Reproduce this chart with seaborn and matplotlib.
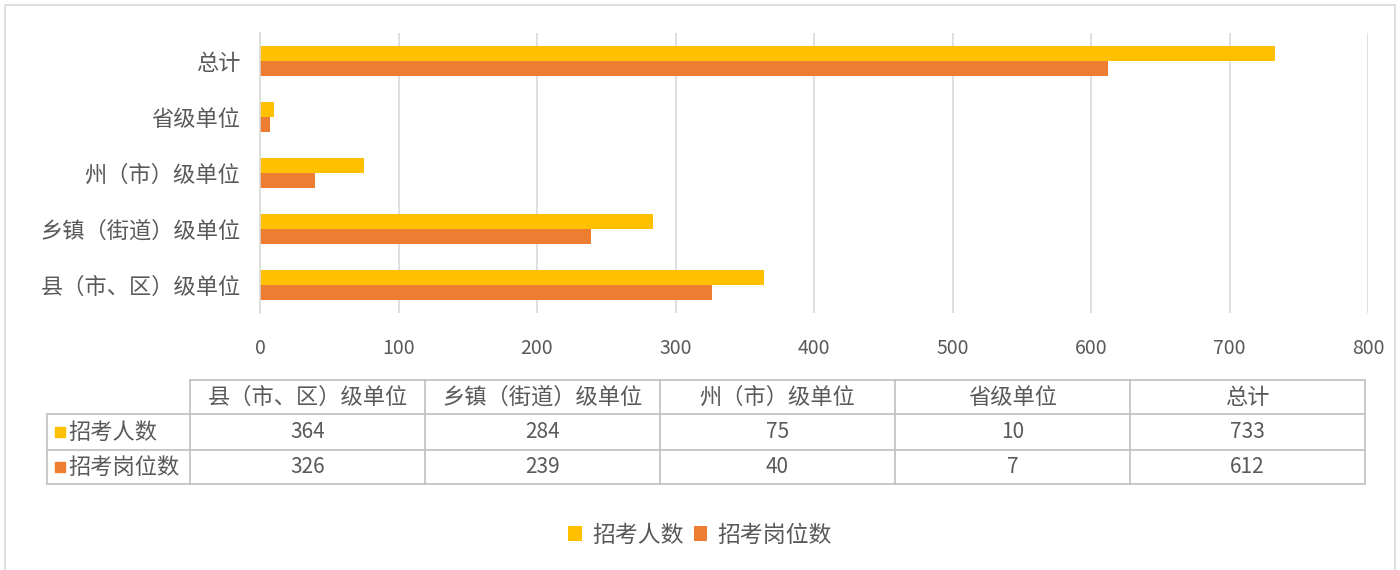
import pandas as pd
import matplotlib.pyplot as plt
import seaborn as sns
from matplotlib.patches import Patch, Rectangle

# --- DATA ---
categories = ["县（市、区）级单位", "乡镇（街道）级单位", "州（市）级单位", "省级单位", "总计"]
series_names = ["招考人数", "招考岗位数"]
applicants = [364, 284, 75, 10, 733]
positions = [326, 239, 40, 7, 612]
x_ticks = [0, 100, 200, 300, 400, 500, 600, 700, 800]

COLORS = {"招考人数": "#FFC000", "招考岗位数": "#ED7D31"}
TEXT = "#595959"
GRID = "#D9D9D9"
TABLE_LINE = "#BFBFBF"

df = pd.DataFrame({
    "category": categories * 2,
    "series": [series_names[0]] * len(categories) + [series_names[1]] * len(categories),
    "value": applicants + positions,
})

sns.set_theme(style="white")
plt.rcParams["font.family"] = ["Noto Sans CJK SC", "DejaVu Sans"]

W, H = 1400, 570
fig = plt.figure(figsize=(14, 5.7), dpi=100)

# overlay axes in pixel coords for border + data table
bg = fig.add_axes([0, 0, 1, 1])
bg.set_xlim(0, W)
bg.set_ylim(H, 0)
bg.axis("off")
bg.add_patch(Rectangle((5, 5), 1390, 580, fill=False, edgecolor=GRID, linewidth=1.2))

# main bar chart
ax = fig.add_axes([260 / W, 1 - 313 / H, (1368 - 260) / W, (313 - 33) / H])
sns.barplot(data=df, y="category", x="value", hue="series", order=categories[::-1],
            hue_order=series_names, palette=COLORS, orient="h", width=0.54,
            saturation=1, linewidth=0, ax=ax, legend=False)
ax.set_xlim(0, 800)
ax.set_xticks(x_ticks)
ax.set_xticklabels([str(t) for t in x_ticks], fontsize=14, color=TEXT)
ax.tick_params(axis="x", length=0, pad=18)
ax.tick_params(axis="y", length=0, pad=14, labelsize=16, labelcolor=TEXT)
ax.grid(axis="x", color=GRID, linewidth=1.2)
ax.set_axisbelow(True)
for s in ["top", "right", "bottom"]:
    ax.spines[s].set_visible(False)
ax.spines["left"].set_color(GRID)
ax.spines["left"].set_linewidth(1.2)
ax.set_xlabel("")
ax.set_ylabel("")

# data table under the chart
col_left, col_w = 190, 235
label_left = 47
rows_y = [380, 414, 450, 484]
xr = col_left + col_w * len(categories)
bg.plot([col_left, xr], [rows_y[0]] * 2, color=TABLE_LINE, lw=1.2)
for y in rows_y[1:]:
    bg.plot([label_left, xr], [y, y], color=TABLE_LINE, lw=1.2)
bg.plot([label_left, label_left], [rows_y[1], rows_y[3]], color=TABLE_LINE, lw=1.2)
for i in range(len(categories) + 1):
    x = col_left + col_w * i
    bg.plot([x, x], [rows_y[0], rows_y[3]], color=TABLE_LINE, lw=1.2)

for i, cat in enumerate(categories):
    cx = col_left + col_w * (i + 0.5)
    bg.text(cx, (rows_y[0] + rows_y[1]) / 2, cat, ha="center", va="center", fontsize=16, color=TEXT)
    bg.text(cx, (rows_y[1] + rows_y[2]) / 2, str(applicants[i]), ha="center", va="center",
            fontsize=15, color=TEXT)
    bg.text(cx, (rows_y[2] + rows_y[3]) / 2, str(positions[i]), ha="center", va="center",
            fontsize=15, color=TEXT)

for r, name in enumerate(series_names):
    yc = (rows_y[r + 1] + rows_y[r + 2]) / 2
    bg.add_patch(Rectangle((55, yc - 5), 10, 10, color=COLORS[name]))
    bg.text(68, yc, name, ha="left", va="center", fontsize=16, color=TEXT)

# bottom legend
handles = [Patch(facecolor=COLORS[n], edgecolor="none", label=n) for n in series_names]
leg = fig.legend(handles=handles, loc="center", bbox_to_anchor=(0.5, 1 - 535 / H), ncol=2,
                 frameon=False, fontsize=16.5, handlelength=0.6, handleheight=0.6,
                 handletextpad=0.45, columnspacing=0.45)
for t in leg.get_texts():
    t.set_color(TEXT)

fig.savefig("out.png", dpi=100)
